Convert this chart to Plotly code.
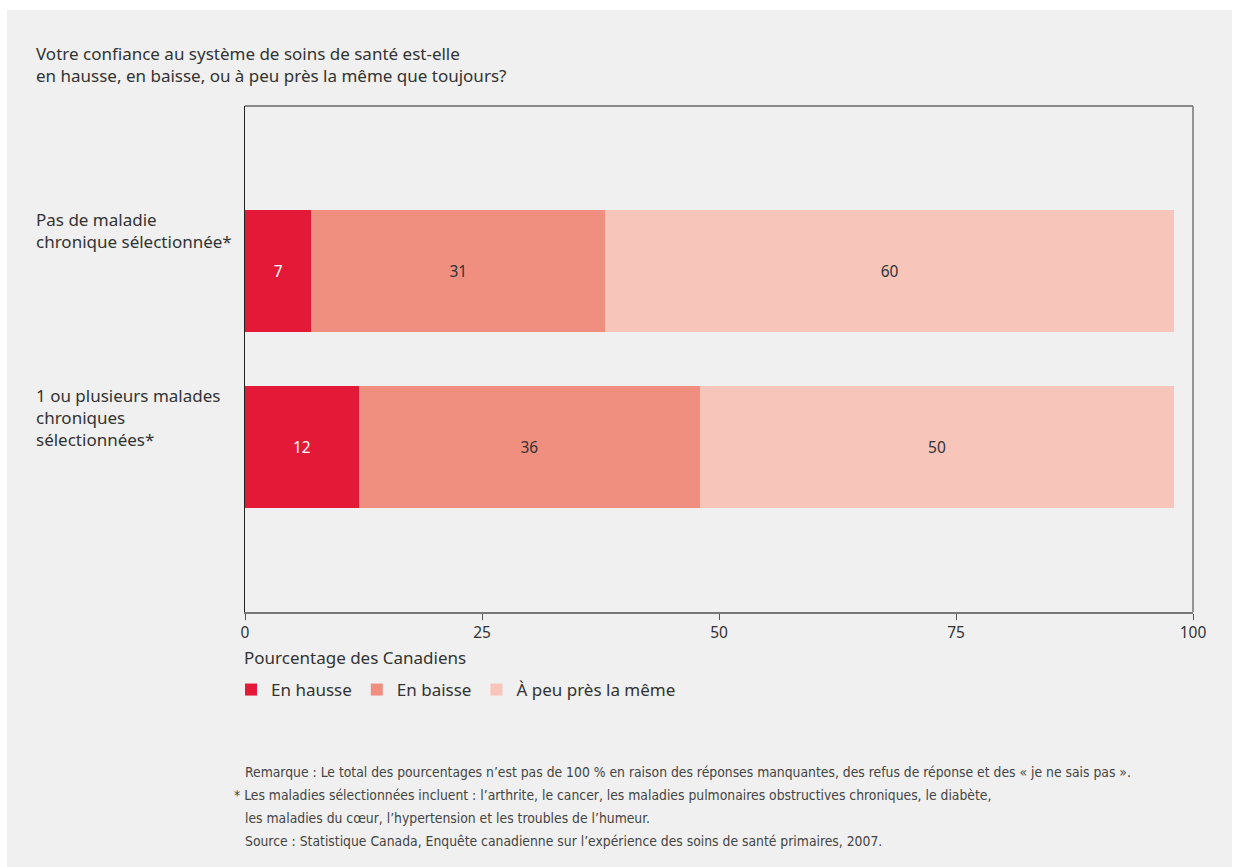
import plotly.graph_objects as go

categories = ["Pas de maladie<br>chronique sélectionnée*",
              "1 ou plusieurs malades<br>chroniques<br>sélectionnées*"]
series_names = ["En hausse", "En baisse", "À peu près la même"]
en_hausse = [7, 12]
en_baisse = [31, 36]
meme = [60, 50]
x_ticks = [0, 25, 50, 75, 100]

colors = ["#e31937", "#f08f80", "#f7c5b9"]
text_colors = ["white", "#333333", "#333333"]
W, H = 1233, 867
L, R, T, B = 245, 40, 106, 255
FONT = "Noto Sans"
FS = 17

ypos = list(range(len(categories)))
fig = go.Figure()
for name, vals, c, tc in zip(series_names, [en_hausse, en_baisse, meme], colors, text_colors):
    fig.add_trace(go.Bar(
        y=ypos, x=vals, name=name, orientation="h",
        marker=dict(color=c, line=dict(width=0)),
        text=[str(v) for v in vals], textposition="inside", insidetextanchor="middle",
        textfont=dict(color=tc, size=15.5, family=FONT), width=0.693,
        hoverinfo="x+name",
    ))

pw, ph = W - L - R, H - T - B
def ax(p):
    return (p - L) / pw
def ay(p):
    return (H - B - p) / ph

shapes = [
    dict(type="rect", xref="paper", yref="paper", x0=ax(7), x1=ax(1232), y0=ay(H), y1=ay(10),
         fillcolor="#eff0ef", line=dict(width=0), layer="below"),
    dict(type="line", xref="paper", yref="paper", x0=0, x1=1, y0=1, y1=1,
         line=dict(color="#222222", width=1.2)),
    dict(type="line", xref="paper", yref="paper", x0=1, x1=1, y0=0, y1=1,
         line=dict(color="#777777", width=1.5)),
]

annotations = [
    dict(text="Votre confiance au système de soins de santé est-elle<br>en hausse, en baisse, ou à peu près la même que toujours?",
         xref="paper", yref="paper", x=ax(34), y=ay(40), xanchor="left", yanchor="top",
         align="left", showarrow=False, font=dict(size=FS, color="#333333", family=FONT)),
    dict(text="Pourcentage des Canadiens", xref="paper", yref="paper", x=ax(242), y=ay(657),
         xanchor="left", yanchor="middle", showarrow=False,
         font=dict(size=FS, color="#333333", family=FONT)),
]
for i, cat in enumerate(categories):
    annotations.append(dict(text=cat, xref="paper", yref="y", x=ax(34), y=i - 0.37,
                            xanchor="left", yanchor="top", align="left", showarrow=False,
                            font=dict(size=FS, color="#333333", family=FONT)))

foot_font = dict(size=13.8, color="#444444", family="DejaVu Sans Condensed, Liberation Sans")
foot = [
    (243, 772, "Remarque : Le total des pourcentages n’est pas de 100 % en raison des réponses manquantes, des refus de réponse et des « je ne sais pas »."),
    (232, 795, "* Les maladies sélectionnées incluent : l’arthrite, le cancer, les maladies pulmonaires obstructives chroniques, le diabète,"),
    (243, 818, "les maladies du cœur, l’hypertension et les troubles de l’humeur."),
    (243, 841, "Source : Statistique Canada, Enquête canadienne sur l’expérience des soins de santé primaires, 2007."),
]
for xp, yp, t in foot:
    annotations.append(dict(text=t, xref="paper", yref="paper", x=ax(xp), y=ay(yp),
                            xanchor="left", yanchor="middle", showarrow=False, font=foot_font))

fig.update_layout(
    width=W, height=H, barmode="stack",
    margin=dict(l=L, r=R, t=T, b=B, pad=0),
    paper_bgcolor="white", plot_bgcolor="#eff0ef",
    font=dict(family=FONT, color="#333333", size=15),
    xaxis=dict(range=[0, 100], tickvals=x_ticks, ticktext=[str(v) for v in x_ticks],
               showgrid=False, zeroline=False, showline=True, linecolor="#777777", linewidth=1.5,
               ticks="outside", ticklen=6, tickcolor="#555555", tickwidth=1,
               tickfont=dict(size=15.5, color="#333333", family=FONT), fixedrange=True),
    yaxis=dict(range=[1.9375, -0.9375], showticklabels=False, showgrid=False, zeroline=False,
               showline=True, linecolor="#222222", linewidth=1.2, ticks="", fixedrange=True),
    showlegend=True,
    legend=dict(orientation="h", x=ax(231), y=ay(690), xanchor="left", yanchor="middle",
                font=dict(size=FS, color="#333333", family=FONT), bgcolor="rgba(0,0,0,0)",
                traceorder="normal"),
    shapes=shapes, annotations=annotations,
    uniformtext=dict(minsize=10, mode="show"),
)

fig.write_html("out.html", config={"displayModeBar": False},
               post_script="document.body.style.margin='0';document.body.style.overflow='hidden';")
